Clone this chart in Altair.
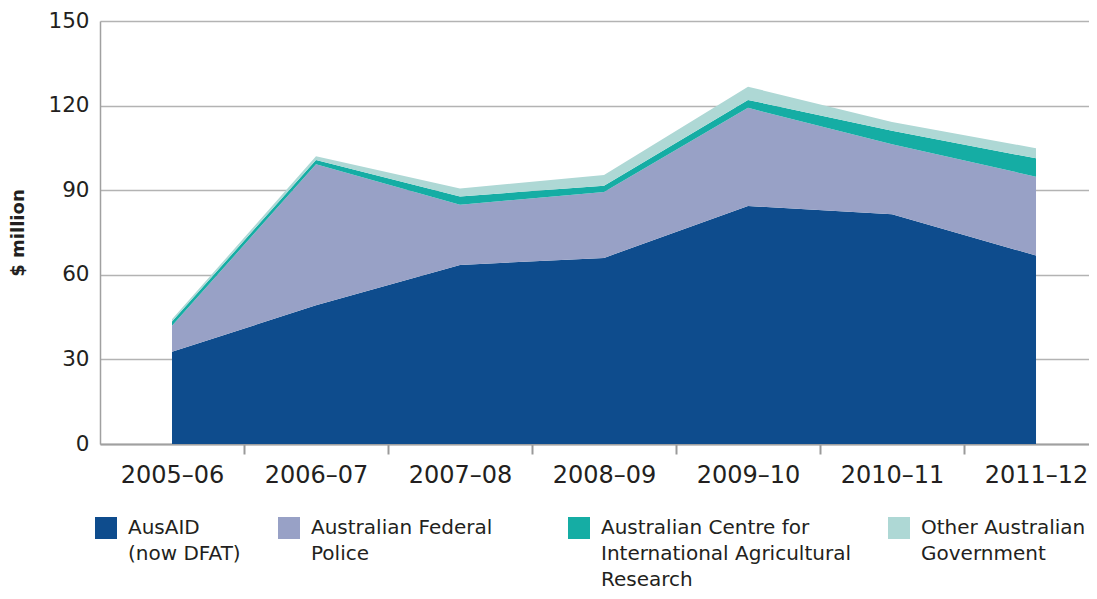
import json
import altair as alt
import pandas as pd

years = ["2005–06", "2006–07", "2007–08", "2008–09", "2009–10", "2010–11", "2011–12"]
series = [
    "AusAID (now DFAT)",
    "Australian Federal Police",
    "Australian Centre for International Agricultural Research",
    "Other Australian Government",
]
legend_lines = [
    ["AusAID", "(now DFAT)"],
    ["Australian Federal", "Police"],
    ["Australian Centre for", "International Agricultural", "Research"],
    ["Other Australian", "Government"],
]
ausaid = [32.7, 49.2, 63.5, 66.0, 84.4, 81.5, 66.8]
afp = [9.2, 50.0, 21.3, 23.4, 34.8, 24.8, 28.0]
aciar = [1.5, 1.5, 3.0, 2.2, 2.8, 4.8, 6.5]
other = [0.8, 1.3, 2.8, 3.8, 4.7, 3.1, 3.6]
colors = ["#0e4c8d", "#98a1c6", "#15ada4", "#aed8d5"]
y_ticks = [0, 30, 60, 90, 120, 150]

rows = []
base = [0.0] * len(years)
for name, vals in zip(series, [ausaid, afp, aciar, other]):
    for i, v in enumerate(vals):
        rows.append({"idx": i, "year": years[i], "series": name,
                     "low": base[i], "high": base[i] + v, "value": v})
        base[i] += v
df = pd.DataFrame(rows)

x_values = [k * 0.5 for k in range(2 * len(years) - 1)]
label_expr = ("datum.value % 1 == 0 ? " + json.dumps(years, ensure_ascii=False)
              + "[datum.value] : ''")

# every legend label gets three lines (blank filler keeps the entries top-aligned;
# the second entry's filler is wider so the columns are spaced like the original)
blank = "\u2800"
padded = []
for k, lines in enumerate(legend_lines):
    fill = blank * 15 if k == 1 else blank
    padded.append(lines + [fill] * (3 - len(lines)))
legend_expr = (json.dumps(padded, ensure_ascii=False) + "[indexof("
               + json.dumps(series, ensure_ascii=False) + ", datum.label)]")

text_color = "#231f20"

chart = alt.Chart(df).mark_area(interpolate="linear").encode(
    x=alt.X("idx:Q",
            scale=alt.Scale(domain=[-0.5, 6.368], nice=False, zero=False),
            axis=alt.Axis(values=x_values, labelExpr=label_expr, title=None,
                          grid=False, labelOverlap=False, labelFlush=False,
                          labelFontSize=24, labelPadding=9, labelColor=text_color,
                          tickSize=10, tickWidth=2, tickColor="#9a9a9a",
                          tickOpacity={"condition": {"test": "datum.value % 1 == 0", "value": 0}, "value": 1},
                          domainColor="#a0a0a0", domainWidth=2)),
    y=alt.Y("high:Q",
            scale=alt.Scale(domain=[0, 150], nice=False, zero=True),
            axis=alt.Axis(values=y_ticks, title="$ million", titleFontWeight="bold",
                          titleFontSize=18, titlePadding=20, titleColor=text_color,
                          labelFontSize=21.5, labelPadding=11, labelColor=text_color,
                          ticks=False, tickSize=0, grid=True, gridColor="#b3b3b3",
                          gridWidth=1.5, domainColor="#a0a0a0", domainWidth=1.5)),
    y2="low:Q",
    color=alt.Color("series:N",
                    scale=alt.Scale(domain=series, range=colors),
                    legend=alt.Legend(title=None, orient="none", legendX=-5, legendY=496,
                                      direction="horizontal", columns=4,
                                      symbolType="square", symbolSize=484,
                                      symbolStrokeWidth=0, symbolOpacity=1,
                                      labelFontSize=20, labelLimit=600, labelOffset=11,
                                      labelColor=text_color,
                                      columnPadding=37, labelBaseline="middle",
                                      padding=0, labelExpr=legend_expr)),
).properties(
    width=989,
    height=423,
    autosize=alt.AutoSizeParams(type="none"),
    padding={"left": 92, "top": 13, "right": 0, "bottom": 147},
).configure(
    font="DejaVu Sans",
    style={"guide-label": {"lineHeight": 26}},
).configure_view(
    stroke=None,
)

chart.save("out.html", embed_options={"renderer": "svg", "actions": False})
